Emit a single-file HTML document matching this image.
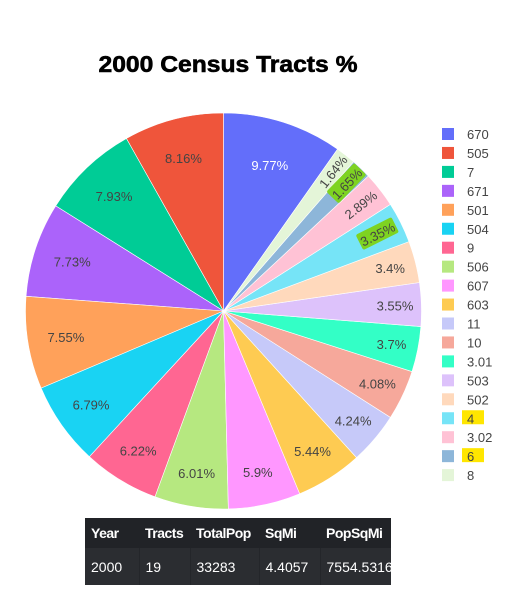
<!DOCTYPE html>
<html><head><meta charset="utf-8">
<style>
body{margin:0;background:#fff;width:513px;height:612px;overflow:hidden;font-family:"Liberation Sans",sans-serif;}
#wrap{position:relative;width:513px;height:612px;}
table{position:absolute;left:85px;top:518px;border-collapse:collapse;background:#2b2d31;color:#fff;font-size:14px;width:306px;table-layout:fixed;}
th{background:#212327;font-weight:bold;text-align:left;height:30px;padding:0 0 0 6px;letter-spacing:-0.5px;}
td{height:37px;padding:0 0 0 6px;border-left:1px solid #24262a;white-space:nowrap;overflow:hidden;}
td:first-child{border-left:none;}
</style></head>
<body>
<div id="wrap">
<svg id="chart" width="513" height="612" style="position:absolute;left:0;top:0">
<text x="228" y="72" text-anchor="middle" font-size="23" font-weight="bold" stroke="#000" stroke-width="0.6" textLength="259" lengthAdjust="spacingAndGlyphs" font-family="Liberation Sans, sans-serif">2000 Census Tracts %</text>
<g id="slices"></g><g id="labels"></g><g id="legend"></g>
</svg>
<table>
<tr><th style="width:48px">Year</th><th style="width:45px">Tracts</th><th style="width:63px">TotalPop</th><th style="width:55px">SqMi</th><th>PopSqMi</th></tr>
<tr><td>2000</td><td>19</td><td>33283</td><td>4.4057</td><td>7554.5316</td></tr>
</table>
</div>
<script>
const categories=["670","505","7","671","501","504","9","506","607","603","11","10","3.01","503","502","4","3.02","6","8"];
const values=[9.77,8.16,7.93,7.73,7.55,6.79,6.22,6.01,5.9,5.44,4.24,4.08,3.7,3.55,3.4,3.35,2.89,1.65,1.64];
const labelsText=["9.77%","8.16%","7.93%","7.73%","7.55%","6.79%","6.22%","6.01%","5.9%","5.44%","4.24%","4.08%","3.7%","3.55%","3.4%","3.35%","2.89%","1.65%","1.64%"];
const colors=["#636efa","#ef553b","#00cc96","#ab63fa","#ffa15a","#19d3f3","#ff6692","#b6e880","#ff97ff","#fecb52","#c6c9f9","#f6a89b","#33ffc6","#ddc2fb","#ffd9bc","#76e4f7","#ffc2d5","#8db6d9","#e4f5d8"];
const highlightLabels=["1.65%","3.35%"];
const highlightLegend=["4","6"];
const NS="http://www.w3.org/2000/svg";
const cx=223.5,cy=311,R=198;
const total=values.reduce((a,b)=>a+b,0);
function mk(t,attrs,parent){const e=document.createElementNS(NS,t);for(const k in attrs)e.setAttribute(k,attrs[k]);parent.appendChild(e);return e;}
function pt(theta,r){return [cx+r*Math.sin(theta),cy-r*Math.cos(theta)];}
const gS=document.getElementById('slices'),gL=document.getElementById('labels'),gG=document.getElementById('legend');
let end=values[0]/total*2*Math.PI;
values.forEach((v,i)=>{
  const span=v/total*2*Math.PI;
  const a1=end, a0=end-span;
  const p0=pt(a0,R),p1=pt(a1,R);
  const large=span>Math.PI?1:0;
  const p=mk('path',{d:`M${cx},${cy}L${p0[0]},${p0[1]}A${R},${R} 0 ${large} 1 ${p1[0]},${p1[1]}Z`,fill:colors[i],stroke:'#fff','stroke-width':0.6},gS);
  
  
  const mid=(a0+a1)/2;
  const pct=v;
  const rf=Math.min(0.9,0.92-pct*0.015);
  const lp=pt(mid,R*rf);
  let rot=0;
  if(pct<3.37){let deg=((mid*180/Math.PI)%360+360)%360;rot=deg-90;while(rot<-90)rot+=180;while(rot>90)rot-=180;}
  const g=mk('g',{transform:`translate(${lp[0]},${lp[1]}) rotate(${rot})`},gL);
  if(highlightLabels.includes(labelsText[i])){
    const hl=mk('rect',{x:-20,y:-9,width:40,height:17,fill:'#7ed321',rx:2},g);
    
    
  }
  const t=mk('text',{x:0,y:5,'text-anchor':'middle','font-size':13,fill:i==0?'#fff':'#444'},g);
  t.textContent=labelsText[i];
  
  
  end=a0;
});
categories.forEach((c,i)=>{
  const y=134+i*18.95;
  if(highlightLegend.includes(c)){
    const h=mk('rect',{x:462,y:y-8,width:22,height:14,fill:'#ffe600'},gG);
    
    
  }
  const s=mk('rect',{x:442,y:y-6,width:12,height:12,fill:colors[i]},gG);
  
  
  const t=mk('text',{x:467,y:y+5,'font-size':13,fill:'#444'},gG);
  t.textContent=c;
  
  
});
</script>
</body></html>
